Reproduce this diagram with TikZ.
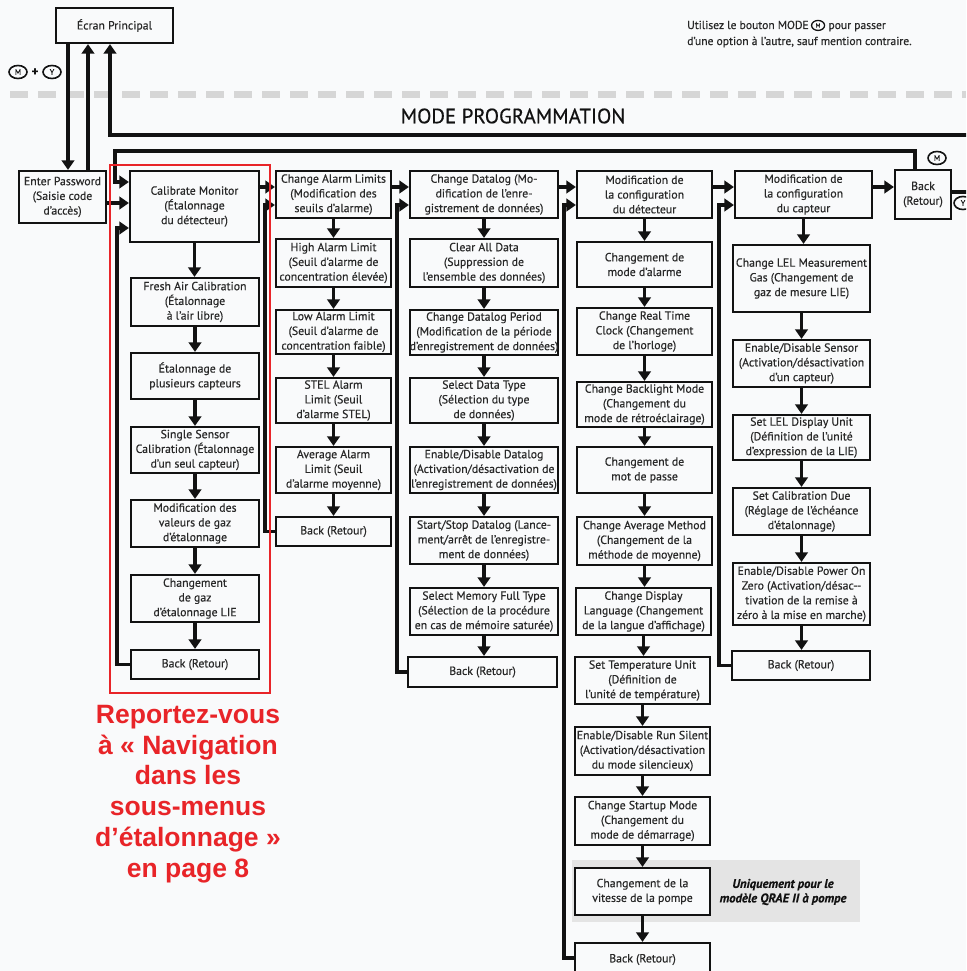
\documentclass[tikz,border=0pt]{standalone}
\usepackage{fontspec}
\setmainfont{PT Sans}[FakeBold=0.45]
\newfontfamily\redfont{Liberation Sans}
\usetikzlibrary{arrows.meta,shapes.geometric}
\definecolor{bg}{RGB}{249,250,251}
\definecolor{ink}{RGB}{18,18,18}
\definecolor{txt}{RGB}{40,40,40}
\definecolor{redm}{RGB}{232,36,40}
\definecolor{dashg}{RGB}{214,214,214}
\definecolor{band}{RGB}{228,228,228}
\tikzset{
  bx/.style={draw=ink, line width=2.2pt, fill=bg, inner sep=0pt, align=center, text=txt,
    font=\fontsize{11.8}{14.7}\selectfont},
  arr/.style={draw=ink, line width=3.3pt, -{Triangle[width=12.5pt,length=9.5pt]}},
  btn/.style={ellipse, draw=ink, line width=1.6pt, inner sep=0pt, minimum width=18pt,
    minimum height=13pt, font=\fontsize{8}{8}\selectfont, text=ink},
  smallbtn/.style={btn, minimum width=13pt, minimum height=10pt, line width=1.3pt,
    font=\fontsize{6}{6}\selectfont},
  note/.style={text=txt, inner sep=0pt, font=\fontsize{11.6}{13}\selectfont},
}
\newcommand\mybox[6]{\node[bx, minimum width={#4-#2}, minimum height={#5-#3}] (#1) at ({(#2+#4)/2},{(#3+#5)/2}) {#6};}
\newcommand\va[2]{\draw[arr] (#1.south) -- (#1.south |- #2.north);}
\begin{document}
\begin{tikzpicture}[x=1pt,y=-1pt]
\path[use as bounding box, fill=bg] (0,0) rectangle (966,971);
\clip (0,0) rectangle (966,971);

% decorations
\draw[dashg, line width=7pt, dash pattern=on 18pt off 10pt] (10,95) -- (966,95);
\fill[band] (572,860) rectangle (860,922);

\node[text=ink, inner sep=0pt, font=\fontsize{20.8}{20.8}\selectfont] (mp) at (513,116) {MODE PROGRAMMATION};

\node[note, anchor=base west] (note1) at (687,29) {Utilisez le bouton MODE};
\node[smallbtn, anchor=west] (notem) at ([xshift=2pt,yshift=-0.5pt]note1.east) {M};
\node[note, anchor=base west] (note2) at ([xshift=3pt]notem.east |- note1.base) {pour passer};
\node[note, anchor=base west] (note3) at (687,45) {d’une option à l’autre, sauf mention contraire.};

\node[btn] (bm) at (18,72) {M};
\node[text=ink, inner sep=0pt, font=\bfseries\fontsize{13}{13}\selectfont] (plus) at (35,72) {+};
\node[btn] (by) at (52,72) {Y};

% boxes
\mybox{ecran}{56}{8}{173}{43}{Écran Principal}
\mybox{enter}{19}{171}{106}{223}{Enter Password\\(Saisie code\\d’accès)}

\mybox{calib}{130}{171}{259}{242}{Calibrate Monitor\\(Étalonnage\\du détecteur)}
\mybox{c1}{131}{278}{259}{326}{Fresh Air Calibration\\(Étalonnage\\à l’air libre)}
\mybox{c2}{131}{353}{259}{399}{Étalonnage de\\plusieurs capteurs}
\mybox{c3}{131}{427}{259}{473}{Single Sensor\\Calibration (Étalonnage\\d’un seul capteur)}
\mybox{c4}{131}{500}{259}{547}{Modification des\\valeurs de gaz\\d’étalonnage}
\mybox{c5}{131}{575}{259}{622}{Changement\\de gaz\\d’étalonnage LIE}
\mybox{cback}{131}{650}{259}{679}{Back (Retour)}

\mybox{alarm}{276}{171}{391}{218}{Change Alarm Limits\\(Modification des\\seuils d’alarme)}
\mybox{a1}{276}{239}{391}{287}{High Alarm Limit\\(Seuil d’alarme de\\concentration élevée)}
\mybox{a2}{276}{310}{391}{354}{Low Alarm Limit\\(Seuil d’alarme de\\concentration faible)}
\mybox{a3}{276}{378}{391}{423}{STEL Alarm\\Limit (Seuil\\d’alarme STEL)}
\mybox{a4}{276}{447}{391}{493}{Average Alarm\\Limit (Seuil\\d’alarme moyenne)}
\mybox{aback}{276}{517}{391}{546}{Back (Retour)}

\mybox{dlog}{410}{171}{558}{218}{Change Datalog (Mo-\\dification de l’enre-\\gistrement de données)}
\mybox{d1}{410}{239}{558}{287}{Clear All Data\\(Suppression de\\l’ensemble des données)}
\mybox{d2}{410}{310}{558}{355}{Change Datalog Period\\(Modification de la période\\d’enregistrement de données)}
\mybox{d3}{410}{378}{558}{423}{Select Data Type\\(Sélection du type\\de données)}
\mybox{d4}{410}{447}{558}{493}{Enable/Disable Datalog\\(Activation/désactivation de\\l’enregistrement de données)}
\mybox{d5}{410}{517}{558}{564}{Start/Stop Datalog (Lance-\\ment/arrêt de l’enregistre-\\ment de données)}
\mybox{d6}{410}{588}{558}{635}{Select Memory Full Type\\(Sélection de la procédure\\en cas de mémoire saturée)}
\mybox{dback}{408}{657}{557}{687}{Back (Retour)}

\mybox{cfg}{577}{171}{712}{218}{Modification de\\la configuration\\du détecteur}
\mybox{e1}{577}{242}{712}{287}{Changement de\\mode d’alarme}
\mybox{e2}{577}{308}{712}{355}{Change Real Time\\Clock (Changement\\de l’horloge)}
\mybox{e3}{577}{382}{712}{427}{Change Backlight Mode\\(Changement du\\mode de rétroéclairage)}
\mybox{e4}{577}{447}{712}{493}{Changement de\\mot de passe}
\mybox{e5}{577}{517}{712}{565}{Change Average Method\\(Changement de la\\méthode de moyenne)}
\mybox{e6}{576}{588}{711}{635}{Change Display\\Language (Changement\\de la langue d’affichage)}
\mybox{e7}{575}{657}{710}{704}{Set Temperature Unit\\(Définition de\\l’unité de température)}
\mybox{e8}{575}{727}{710}{775}{Enable/Disable Run Silent\\(Activation/désactivation\\du mode silencieux)}
\mybox{e9}{575}{797}{710}{845}{Change Startup Mode\\(Changement du\\mode de démarrage)}
\mybox{e10}{575}{868}{710}{915}{Changement de la\\vitesse de la pompe}
\mybox{eback}{575}{943}{710}{976}{Back (Retour)}

\node[text=ink, inner sep=0pt, align=center, font=\bfseries\itshape\fontsize{12.6}{14.5}\selectfont] (pump) at (783,892) {Uniquement pour le\\modèle QRAE II à pompe};

\mybox{capt}{735}{171}{872}{218}{Modification de\\la configuration\\du capteur}
\mybox{f1}{733}{245}{870}{312}{Change LEL Measurement\\Gas (Changement de\\gaz de mesure LIE)}
\mybox{f2}{733}{340}{870}{387}{Enable/Disable Sensor\\(Activation/désactivation\\d’un capteur)}
\mybox{f3}{733}{415}{870}{460}{Set LEL Display Unit\\(Définition de l’unité\\d’expression de la LIE)}
\mybox{f4}{733}{488}{870}{535}{Set Calibration Due\\(Réglage de l’échéance\\d’étalonnage)}
\mybox{f5}{733}{563}{870}{625}{Enable/Disable Power On\\Zero (Activation/désac-\kern-0.5pt-\\tivation de la remise à\\zéro à la mise en marche)}
\mybox{fback}{732}{651}{870}{680}{Back (Retour)}

\mybox{back}{895}{170}{951}{219}{Back\\(Retour)}
\node[btn] (backm) at (937,158) {M};
\node[btn] (backy) at (963,203) {Y};

% top connectors
\draw[arr] (68,0 |- ecran.south) -- (68,0 |- enter.north);
\draw[arr] (88,0 |- enter.north) -- (88,0 |- ecran.south);
\draw[arr] (back.east |- 0,192) -- (995,192) -- (995,135) -- (110,135) -- (110,0 |- ecran.south);
\draw[arr] (915,0 |- back.north) -- (915,151) -- (115,151) -- (115,182) -- (calib.west |- 0,182);
\draw[arr] (enter.east |- 0,203) -- (calib.west |- 0,203);
\draw[arr] (cback.west) -- (117,0 |- cback.west) -- (117,228) -- (calib.west |- 0,228);

% header row
\draw[arr] (calib.east |- 0,187) -- (alarm.west |- 0,187);
\draw[arr] (alarm.east |- 0,187) -- (dlog.west |- 0,187);
\draw[arr] (dlog.east |- 0,187) -- (cfg.west |- 0,187);
\draw[arr] (cfg.east |- 0,187) -- (capt.west |- 0,187);
\draw[arr] (capt.east |- 0,187) -- (back.west |- 0,187);

% column loops
\draw[arr] (aback.west) -- (265,0 |- aback.west) -- (265,205) -- (alarm.west |- 0,205);
\draw[arr] (dback.west) -- (397,0 |- dback.west) -- (397,205) -- (dlog.west |- 0,205);
\draw[arr] (eback.west |- 0,958) -- (564,958) -- (564,205) -- (cfg.west |- 0,205);
\draw[arr] (fback.west) -- (719,0 |- fback.west) -- (719,205) -- (capt.west |- 0,205);

% column arrows
\va{calib}{c1}\va{c1}{c2}\va{c2}{c3}\va{c3}{c4}\va{c4}{c5}\va{c5}{cback}
\va{alarm}{a1}\va{a1}{a2}\va{a2}{a3}\va{a3}{a4}\va{a4}{aback}
\va{dlog}{d1}\va{d1}{d2}\va{d2}{d3}\va{d3}{d4}\va{d4}{d5}\va{d5}{d6}\va{d6}{dback}
\va{cfg}{e1}\va{e1}{e2}\va{e2}{e3}\va{e3}{e4}\va{e4}{e5}\va{e5}{e6}\va{e6}{e7}\va{e7}{e8}\va{e8}{e9}\va{e9}{e10}\va{e10}{eback}
\va{capt}{f1}\va{f1}{f2}\va{f2}{f3}\va{f3}{f4}\va{f4}{f5}\va{f5}{fback}

% red frame and note
\draw[redm, line width=2.6pt] (110,165) rectangle (270,693);
\node[text=redm, inner sep=0pt, align=center, font=\redfont\bfseries\fontsize{26.5}{30.7}\selectfont] (redtxt) at (188,794) {Reportez-vous\\à «~Navigation\\dans les\\sous-menus\\d’étalonnage~»\\en page 8};
\end{tikzpicture}
\end{document}
